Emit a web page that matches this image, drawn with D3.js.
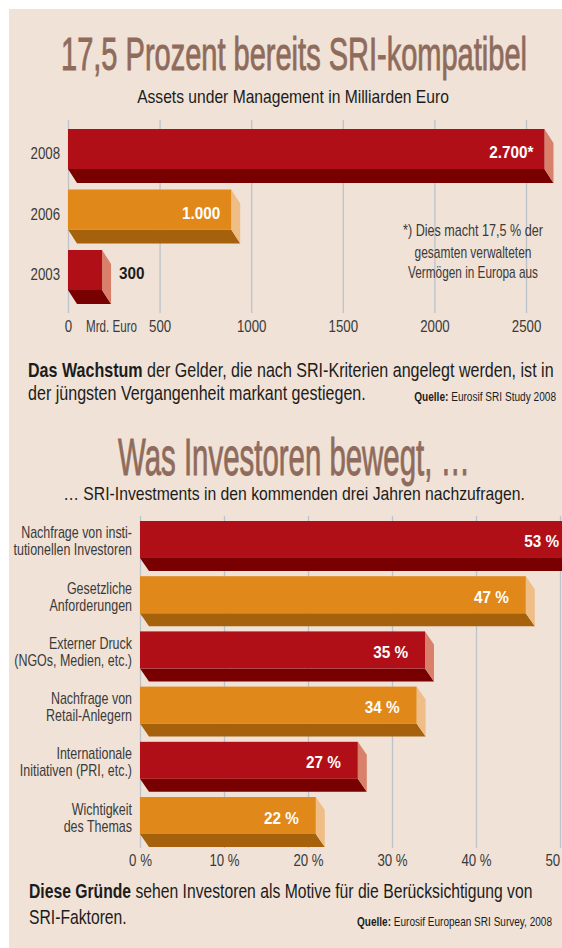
<!DOCTYPE html>
<html>
<head>
<meta charset="utf-8">
<script src="https://cdn.jsdelivr.net/npm/d3@7"></script>
<style>
  body { margin: 0; background: #fff; }
  text { font-family: "Liberation Sans", Arial, sans-serif; }
</style>
</head>
<body>
<svg id="chart"></svg>
<script>
/////////////////////////////////////////////////////////
// data
/////////////////////////////////////////////////////////
const assetYears = ["2008", "2006", "2003"];
const assetValues = [2700, 1000, 300];      // printed values
const assetBars = [2650, 940, 235];         // bar ends as drawn
const assetLabels = ["2.700*", "1.000", "300"];
const assetColors = ["red", "orange", "red"];
const assetTicks = [0, 500, 1000, 1500, 2000, 2500];

const motiveNames = [
  ["Nachfrage von insti-", "tutionellen Investoren"],
  ["Gesetzliche", "Anforderungen"],
  ["Externer Druck", "(NGOs, Medien, etc.)"],
  ["Nachfrage von", "Retail-Anlegern"],
  ["Internationale", "Initiativen (PRI, etc.)"],
  ["Wichtigkeit", "des Themas"]
];
const motiveValues = [53, 47, 35, 34, 27, 22];
const motiveColors = ["red", "orange", "red", "orange", "red", "orange"];
const motiveTicks = [0, 10, 20, 30, 40, 50];

const footnote = ["*) Dies macht 17,5 % der", "gesamten verwalteten", "Vermögen in Europa aus"];

/////////////////////////////////////////////////////////
// setup
/////////////////////////////////////////////////////////
const W = 562, H = 948;
const palette = {
  red:    { front: "#b10f17", bottom: "#780000", side: "#d8806a" },
  orange: { front: "#e0881a", bottom: "#a5610b", side: "#efbd86" }
};
const titleColor = "#8f6b5c", ink = "#1c1c1c", grey = "#3a3a3a", gridColor = "#bcc3cb";

const svg = d3.select("#chart").attr("width", W).attr("height", H);

svg.append("rect")
  .attr("x", 9).attr("y", 9)
  .attr("width", W - 9).attr("height", H - 9)
  .attr("fill", "#f0e2d6");

// squeeze text horizontally (condensed look), either by factor or to a width
function squeeze (sel, k, width) {
  let s = k;
  sel.each(function () {
    const t = d3.select(this);
    const x = +t.attr("x") || 0, y = +t.attr("y") || 0;
    s = width ? width / this.getComputedTextLength() : k;
    t.attr("x", 0).attr("y", 0)
      .attr("transform", `translate(${x},${y}) scale(${s},1)`);
  });
  return s;
}

function addText (x, y, str, opts) {
  const t = svg.append("text")
    .attr("x", x).attr("y", y)
    .attr("text-anchor", opts.anchor || "start")
    .attr("font-size", opts.size)
    .attr("font-weight", opts.bold ? "bold" : null)
    .attr("fill", opts.color || ink)
    .text(str);
  if (opts.stroke) t.attr("stroke", opts.color).attr("stroke-width", opts.stroke);
  squeeze(t, opts.k || 0.78, opts.width);
  return t;
}

// paragraph line with a bold lead-in, returns the squeeze used
function addRich (x, y, parts, size, width, anchor, k) {
  const t = svg.append("text")
    .attr("x", x).attr("y", y)
    .attr("text-anchor", anchor || "start")
    .attr("fill", ink);
  parts.forEach(p => {
    t.append("tspan")
      .attr("font-weight", p.bold ? "bold" : null)
      .attr("font-size", p.size || size)
      .text(p.text);
  });
  return squeeze(t, k || 0.78, width);
}

// 3d bar: front face, sheared bottom face, sheared side face
function drawBars (g, data, x, y, dx, dy) {
  const bars = g.selectAll(".bar").data(data).enter().append("g").attr("class", "bar");
  const h = y.bandwidth();

  bars.append("path")
    .attr("fill", d => palette[d.color].bottom)
    .attr("d", d => {
      const x0 = x(0), x1 = x(d.value) - dx, fb = y(d.name) + h;
      return `M${x0},${fb}L${x1},${fb}L${x1 + dx},${fb + dy}L${x0 + dx},${fb + dy}Z`;
    });

  bars.append("path")
    .attr("fill", d => palette[d.color].side)
    .attr("d", d => {
      const x1 = x(d.value) - dx, top = y(d.name), fb = top + h;
      return `M${x1},${top}L${x1 + dx},${top + dy}L${x1 + dx},${fb + dy}L${x1},${fb}Z`;
    });

  bars.append("rect")
    .attr("x", x(0))
    .attr("y", d => y(d.name))
    .attr("width", d => x(d.value) - dx - x(0))
    .attr("height", h)
    .attr("fill", d => palette[d.color].front);

  return bars;
}

/////////////////////////////////////////////////////////
// chart 1
/////////////////////////////////////////////////////////
addText(294, 70, "17,5 Prozent bereits SRI-kompatibel", { anchor: "middle", size: 47, color: titleColor, width: 466, stroke: 0.9 });
addText(293, 103, "Assets under Management in Milliarden Euro", { anchor: "middle", size: 18, width: 312 });

const x1 = d3.scaleLinear().domain([0, 2500]).range([68, 526]);
const y1 = d3.scaleBand().domain(assetYears).range([129, 290]).paddingInner(0.339).paddingOuter(0);

const g1 = svg.append("g");

const ax1 = g1.append("g")
  .attr("transform", "translate(0,313)")
  .call(d3.axisBottom(x1).tickValues(assetTicks).tickFormat(d3.format("d"))
    .tickSizeInner(-193).tickSizeOuter(0));
ax1.select(".domain").remove();
ax1.selectAll("line").attr("stroke", gridColor).attr("stroke-width", 1.3);
ax1.selectAll("text")
  .attr("y", 19).attr("dy", null)
  .attr("font-size", 17).attr("fill", grey)
  .style("font-family", "Liberation Sans, Arial, sans-serif");
squeeze(ax1.selectAll("text"), 0.78);

addText(x1(0) + 18, 332, "Mrd. Euro", { size: 17, color: grey, width: 51 });

const assetData = assetYears.map((name, i) => ({
  name, value: assetBars[i], printed: assetValues[i], label: assetLabels[i], color: assetColors[i]
}));
drawBars(g1, assetData, x1, y1, 9, 14);

assetData.forEach(d => {
  const cy = y1(d.name) + y1.bandwidth() / 2;
  addText(60, cy + 10, d.name, { anchor: "end", size: 17, color: grey });
  if (d.printed > 500) {
    addText(x1(d.value) - 9 - 11, cy + 9, d.label, { anchor: "end", size: 17, bold: true, color: "#fff", k: 0.9 });
  } else {
    addText(x1(d.value) + 8, cy + 9, d.label, { size: 17, bold: true, color: ink, k: 0.9 });
  }
});

footnote.forEach((line, i) => {
  addText(473, [236, 258, 278][i], line, { anchor: "middle", size: 16, color: grey, width: [140, 117, 130][i] });
});

const k1 = addRich(28, 377, [{ text: "Das Wachstum", bold: true }, { text: " der Gelder, die nach SRI-Kriterien angelegt werden, ist in" }], 19.5, 526);
addRich(28, 400, [{ text: "der jüngsten Vergangenheit markant gestiegen." }], 19.5, null, "start", k1);
addRich(556, 401, [{ text: "Quelle:", bold: true }, { text: " Eurosif SRI Study 2008" }], 13, 142, "end");

/////////////////////////////////////////////////////////
// chart 2
/////////////////////////////////////////////////////////
addText(294, 475, "Was Investoren bewegt, …", { anchor: "middle", size: 52, color: titleColor, width: 352, stroke: 0.9 });
addText(294, 500, "… SRI-Investments in den kommenden drei Jahren nachzufragen.", { anchor: "middle", size: 18, width: 462 });

const motiveKeys = motiveNames.map(d => d.join(" "));
const x2 = d3.scaleLinear().domain([0, 50]).range([140, 560]);
const y2 = d3.scaleBand().domain(motiveKeys).range([521, 834]).paddingInner(0.33).paddingOuter(0);

const g2 = svg.append("g");

const ax2 = g2.append("g")
  .attr("transform", "translate(0,848)")
  .call(d3.axisBottom(x2).tickValues(motiveTicks).tickFormat(d => d + " %")
    .tickSizeInner(-332).tickSizeOuter(0));
ax2.select(".domain").remove();
ax2.selectAll("line").attr("stroke", gridColor).attr("stroke-width", 1.3);
ax2.selectAll("text")
  .attr("y", 18).attr("dy", null)
  .attr("font-size", 17).attr("fill", grey)
  .style("font-family", "Liberation Sans, Arial, sans-serif");
squeeze(ax2.selectAll("text"), 0.78);

const motiveData = motiveKeys.map((name, i) => ({
  name, lines: motiveNames[i], value: motiveValues[i], color: motiveColors[i]
}));
drawBars(g2, motiveData, x2, y2, 9, 13);

motiveData.forEach(d => {
  const cy = y2(d.name) + y2.bandwidth() / 2;
  addText(132, cy - 1, d.lines[0], { anchor: "end", size: 16, color: grey });
  addText(132, cy + 16, d.lines[1], { anchor: "end", size: 16, color: grey });
  addText(x2(d.value) - 9 - 17, cy + 8, d.value + " %", { anchor: "end", size: 17, bold: true, color: "#fff", k: 0.9 });
});

const k2 = addRich(29, 898, [{ text: "Diese Gründe", bold: true }, { text: " sehen Investoren als Motive für die Berücksichtigung von" }], 19.5, 504);
addRich(29, 924, [{ text: "SRI-Faktoren." }], 19.5, null, "start", k2);
addRich(552, 926, [{ text: "Quelle:", bold: true }, { text: " Eurosif European SRI Survey, 2008" }], 13, 195, "end");
</script>
</body>
</html>
